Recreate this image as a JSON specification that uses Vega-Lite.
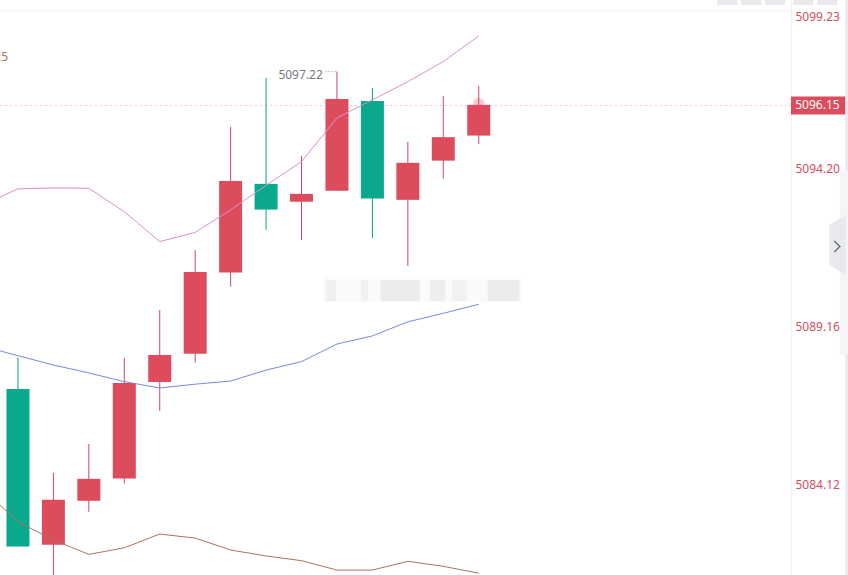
{
  "$schema": "https://vega.github.io/schema/vega-lite/v6.json",
  "width": 791,
  "height": 575,
  "padding": {"left": 0, "top": 0, "right": 57, "bottom": 0},
  "autosize": "none",
  "background": "#ffffff",
  "view": {"stroke": null},
  "config": {"font": "Noto Sans"},
  "datasets": {
    "candles": [
      {"i": 0, "high": 5088.16, "open": 5087.17, "close": 5082.14, "low": 5082.14, "dir": "down"},
      {"i": 1, "high": 5084.49, "open": 5082.2, "close": 5083.63, "low": 5081.23, "dir": "up"},
      {"i": 2, "high": 5085.41, "open": 5083.6, "close": 5084.3, "low": 5083.25, "dir": "up"},
      {"i": 3, "high": 5088.16, "open": 5084.31, "close": 5087.36, "low": 5084.15, "dir": "up"},
      {"i": 4, "high": 5089.69, "open": 5087.39, "close": 5088.25, "low": 5086.47, "dir": "up"},
      {"i": 5, "high": 5091.6, "open": 5088.29, "close": 5090.9, "low": 5088.01, "dir": "up"},
      {"i": 6, "high": 5095.53, "open": 5090.88, "close": 5093.8, "low": 5090.43, "dir": "up"},
      {"i": 7, "high": 5097.09, "open": 5093.71, "close": 5092.89, "low": 5092.24, "dir": "down"},
      {"i": 8, "high": 5094.6, "open": 5093.14, "close": 5093.39, "low": 5091.92, "dir": "up"},
      {"i": 9, "high": 5097.29, "open": 5093.49, "close": 5096.42, "low": 5093.49, "dir": "up"},
      {"i": 10, "high": 5096.77, "open": 5096.35, "close": 5093.24, "low": 5091.98, "dir": "down"},
      {"i": 11, "high": 5095.05, "open": 5093.2, "close": 5094.38, "low": 5091.09, "dir": "up"},
      {"i": 12, "high": 5096.51, "open": 5094.45, "close": 5095.2, "low": 5093.88, "dir": "up"},
      {"i": 13, "high": 5096.84, "open": 5095.25, "close": 5096.23, "low": 5094.98, "dir": "up"}
    ],
    "averages": [
      {"i": -0.507, "pink": 5093.29, "blue": 5088.38, "brown": 5083.47},
      {"i": 0, "pink": 5093.55, "blue": 5088.23, "brown": 5082.93},
      {"i": 1, "pink": 5093.58, "blue": 5087.93, "brown": 5082.35},
      {"i": 2, "pink": 5093.57, "blue": 5087.68, "brown": 5081.89},
      {"i": 3, "pink": 5092.82, "blue": 5087.4, "brown": 5082.1},
      {"i": 4, "pink": 5091.87, "blue": 5087.2, "brown": 5082.54},
      {"i": 5, "pink": 5092.16, "blue": 5087.32, "brown": 5082.41},
      {"i": 6, "pink": 5092.88, "blue": 5087.42, "brown": 5082.03},
      {"i": 7, "pink": 5093.66, "blue": 5087.77, "brown": 5081.84},
      {"i": 8, "pink": 5094.42, "blue": 5088.04, "brown": 5081.69},
      {"i": 9, "pink": 5095.81, "blue": 5088.6, "brown": 5081.39},
      {"i": 10, "pink": 5096.39, "blue": 5088.86, "brown": 5081.39},
      {"i": 11, "pink": 5096.97, "blue": 5089.31, "brown": 5081.67},
      {"i": 12, "pink": 5097.61, "blue": 5089.58, "brown": 5081.51},
      {"i": 13, "pink": 5098.43, "blue": 5089.87, "brown": 5081.29}
    ],
    "blocks": [
      {"a": 8.62, "b": 14.2, "top": 5090.75, "bottom": 5089.95, "c": "#fafafa"},
      {"a": 8.7, "b": 8.98, "top": 5090.64, "bottom": 5089.97, "c": "#efefef"},
      {"a": 9.68, "b": 9.88, "top": 5090.64, "bottom": 5089.97, "c": "#f0f0f0"},
      {"a": 10.23, "b": 11.34, "top": 5090.64, "bottom": 5089.97, "c": "#ececec"},
      {"a": 11.63, "b": 12.05, "top": 5090.64, "bottom": 5089.97, "c": "#eeeeee"},
      {"a": 12.24, "b": 12.65, "top": 5090.64, "bottom": 5089.97, "c": "#f1f1f1"},
      {"a": 13.25, "b": 14.15, "top": 5090.64, "bottom": 5089.97, "c": "#ececec"},
      {"a": 19.72, "b": 20.29, "top": 5099.575, "bottom": 5099.415, "c": "#e8eaee"},
      {"a": 20.4, "b": 20.97, "top": 5099.575, "bottom": 5099.415, "c": "#e8eaee"},
      {"a": 21.08, "b": 21.64, "top": 5099.575, "bottom": 5099.415, "c": "#e8eaee"},
      {"a": 21.87, "b": 22.43, "top": 5099.575, "bottom": 5099.415, "c": "#e8eaee"},
      {"a": 22.55, "b": 23.11, "top": 5099.575, "bottom": 5099.415, "c": "#e8eaee"},
      {"a": 23.34, "b": 23.45, "top": 5099.575, "bottom": 5094.15, "c": "#e9eaef"},
      {"a": 23.19, "b": 23.45, "top": 5094.15, "bottom": 5088.25, "c": "#f5f5f7"},
      {"a": 23.34, "b": 23.45, "top": 5088.25, "bottom": 5081.233, "c": "#e9eaef"}
    ],
    "hlines": [
      {"a": -0.507, "b": 21.81, "p": 5099.23, "kind": "top"},
      {"a": -0.507, "b": 21.81, "p": 5096.21, "kind": "last"}
    ],
    "tab": [
      {"i": 22.89, "top": 5092.4, "bottom": 5091.12},
      {"i": 23.36, "top": 5092.72, "bottom": 5090.8}
    ],
    "chevron": [
      {"i": 23.03, "p": 5091.89},
      {"i": 23.19, "p": 5091.71},
      {"i": 23.03, "p": 5091.54}
    ]
  },
  "encoding": {
    "x": {"field": "i", "type": "quantitative", "title": null, "axis": null, "scale": {"domain": [-0.507, 21.81], "nice": false, "zero": false, "padding": 0}}
  },
  "layer": [
    {
      "data": {"name": "blocks"},
      "mark": {"type": "rect"},
      "encoding": {
        "x": {"field": "a", "type": "quantitative"},
        "x2": {"field": "b"},
        "y": {"field": "top", "type": "quantitative", "title": null, "scale": {"domain": [5081.233, 5099.575], "nice": false, "zero": false}, "axis": {
          "orient": "right",
          "values": [5099.23, 5094.2, 5089.16, 5084.12],
          "format": ".2f",
          "grid": false,
          "ticks": false,
          "domainColor": "#eef0f4",
          "labelColor": "#d0505f",
          "labelFontSize": 12,
          "labelPadding": 4,
          "labelOverlap": false,
          "labelBound": false,
          "labelOffset": {"condition": {"test": "datum.value > 5099", "value": 6}, "value": 0},
          "title": null
        }},
        "y2": {"field": "bottom"},
        "color": {"field": "c", "type": "nominal", "scale": null}
      }
    },
    {
      "data": {"name": "tab"},
      "mark": {"type": "area", "color": "#e9eaef"},
      "encoding": {
        "x": {"field": "i", "type": "quantitative"},
        "y": {"field": "top", "type": "quantitative"},
        "y2": {"field": "bottom"}
      }
    },
    {
      "data": {"name": "chevron"},
      "mark": {"type": "line", "color": "#6b6f7a", "strokeWidth": 1.4},
      "encoding": {
        "x": {"field": "i", "type": "quantitative"},
        "y": {"field": "p", "type": "quantitative"},
        "order": {"field": "p", "sort": "descending"}
      }
    },
    {
      "data": {"name": "hlines"},
      "transform": [{"filter": "datum.kind === 'top'"}],
      "mark": {"type": "rule", "color": "#f4f4f6", "strokeWidth": 1},
      "encoding": {
        "x": {"field": "a", "type": "quantitative"},
        "x2": {"field": "b"},
        "y": {"field": "p", "type": "quantitative"}
      }
    },
    {
      "data": {"name": "hlines"},
      "transform": [{"filter": "datum.kind === 'last'"}],
      "mark": {"type": "rule", "color": "#f8c6ce", "strokeWidth": 1, "strokeDash": [2, 3]},
      "encoding": {
        "x": {"field": "a", "type": "quantitative"},
        "x2": {"field": "b"},
        "y": {"field": "p", "type": "quantitative"}
      }
    },
    {
      "data": {"values": [{"i": 13, "p": 5096.27}]},
      "mark": {"type": "circle", "size": 130, "color": "#f3b4bd", "opacity": 0.7},
      "encoding": {"y": {"field": "p", "type": "quantitative"}}
    },
    {
      "data": {"name": "candles"},
      "mark": {"type": "rule", "strokeWidth": 1},
      "encoding": {
        "y": {"field": "low", "type": "quantitative"},
        "y2": {"field": "high"},
        "color": {"field": "dir", "type": "nominal", "legend": null, "scale": {"domain": ["up", "down"], "range": ["#c4486a", "#0e9f88"]}}
      }
    },
    {
      "data": {"name": "candles"},
      "mark": {"type": "bar", "size": 23},
      "encoding": {
        "y": {"field": "open", "type": "quantitative"},
        "y2": {"field": "close"},
        "fill": {"field": "dir", "type": "nominal", "legend": null, "scale": {"domain": ["up", "down"], "range": ["#dd4c5c", "#0aa88c"]}}
      }
    },
    {
      "data": {"name": "averages"},
      "mark": {"type": "line", "color": "#d592cf", "strokeWidth": 1},
      "encoding": {"y": {"field": "pink", "type": "quantitative"}}
    },
    {
      "data": {"name": "averages"},
      "mark": {"type": "line", "color": "#7c87de", "strokeWidth": 1},
      "encoding": {"y": {"field": "blue", "type": "quantitative"}}
    },
    {
      "data": {"name": "averages"},
      "mark": {"type": "line", "color": "#a9745a", "strokeWidth": 1},
      "encoding": {"y": {"field": "brown", "type": "quantitative"}}
    },
    {
      "data": {"values": [{"a": 8.68, "b": 9.0, "p": 5097.29}]},
      "mark": {"type": "rule", "color": "#8a8a8a", "strokeWidth": 1, "strokeDash": [1, 2]},
      "encoding": {
        "x": {"field": "a", "type": "quantitative"},
        "x2": {"field": "b"},
        "y": {"field": "p", "type": "quantitative"}
      }
    },
    {
      "data": {"values": [{"i": 8.6, "p": 5097.19, "label": "5097.22"}]},
      "mark": {"type": "text", "align": "right", "baseline": "middle", "fontSize": 12, "color": "#74777f"},
      "encoding": {
        "y": {"field": "p", "type": "quantitative"},
        "text": {"field": "label"}
      }
    },
    {
      "data": {"values": [{"i": -0.28, "p": 5097.76, "label": "25"}]},
      "mark": {"type": "text", "align": "right", "baseline": "middle", "fontSize": 12, "color": "#a9745a"},
      "encoding": {
        "y": {"field": "p", "type": "quantitative"},
        "text": {"field": "label"}
      }
    },
    {
      "data": {"values": [{"a": 21.81, "b": 23.34, "top": 5096.5, "bottom": 5095.92}]},
      "mark": {"type": "rect", "color": "#dd4c5c"},
      "encoding": {
        "x": {"field": "a", "type": "quantitative"},
        "x2": {"field": "b"},
        "y": {"field": "top", "type": "quantitative"},
        "y2": {"field": "bottom"}
      }
    },
    {
      "data": {"values": [{"i": 21.93, "p": 5096.21, "label": "5096.15"}]},
      "mark": {"type": "text", "align": "left", "baseline": "middle", "fontSize": 12, "color": "#ffffff"},
      "encoding": {
        "y": {"field": "p", "type": "quantitative"},
        "text": {"field": "label"}
      }
    }
  ]
}
